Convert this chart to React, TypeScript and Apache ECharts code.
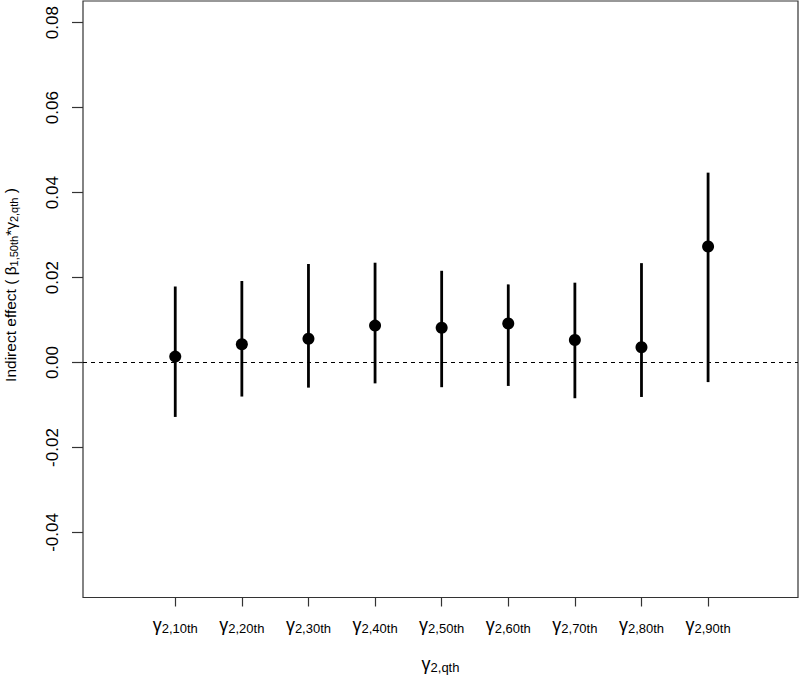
import React, { useEffect, useRef } from "react";
import * as echarts from "echarts";

const quantiles = ["10th", "20th", "30th", "40th", "50th", "60th", "70th", "80th", "90th"];
const estimates = [0.0014, 0.0043, 0.0056, 0.0087, 0.0082, 0.0092, 0.0053, 0.0036, 0.0273];
const lower = [-0.0128, -0.008, -0.0059, -0.0049, -0.0058, -0.0055, -0.0084, -0.0081, -0.0046];
const upper = [0.0179, 0.0192, 0.0232, 0.0235, 0.0216, 0.0184, 0.0188, 0.0234, 0.0447];
const yTicks = [-0.04, -0.02, 0.0, 0.02, 0.04, 0.06, 0.08];
const xTicks = [1, 2, 3, 4, 5, 6, 7, 8, 9];
const yTitle = "{t|Indirect effect ( }{g|β}{s|1,50th}{t|*}{g|γ}{s|2,qth}{t| )}";
const xTitle = "{g|γ}{s|2,qth}";

const FONT = "Liberation Sans, Arial, Helvetica, sans-serif";

export default function App() {
  const ref = useRef<HTMLDivElement>(null);
  useEffect(() => {
    if (!ref.current) return;
    const chart = echarts.init(ref.current, undefined, { renderer: "svg" });
    const pts = estimates.map((v, i) => [i + 1, v]);
    const bars = lower.map((l, i) => [i + 1, l, upper[i]]);
    chart.setOption({
      animation: false,
      backgroundColor: "#fff",
      textStyle: { fontFamily: FONT },
      grid: {
        left: 83,
        right: 2,
        top: 1,
        bottom: 77.5,
        containLabel: false,
        outerBoundsMode: "none",
        show: true,
        borderColor: "#333",
        borderWidth: 1.2,
        backgroundColor: "transparent",
      },
      graphic: [
        {
          type: "text",
          x: 10,
          y: 285,
          rotation: Math.PI / 2,
          style: {
            text: yTitle,
            align: "center",
            verticalAlign: "middle",
            fontFamily: FONT,
            rich: {
              t: { fontSize: 15.5, fontFamily: FONT, fill: "#000" },
              g: { fontSize: 15.5, fontFamily: FONT, fill: "#000" },
              s: { fontSize: 11, fontFamily: FONT, fill: "#000", padding: [7, 0, 0, 0] },
            },
          },
        },
      ],
      xAxis: {
        type: "value",
        min: -0.385,
        max: 10.35,
        splitLine: { show: false },
        axisLine: { show: false, onZero: false },
        axisTick: {
          show: true,
          customValues: xTicks,
          length: 9,
          lineStyle: { color: "#333", width: 1.2 },
        },
        axisLabel: {
          show: true,
          customValues: xTicks,
          margin: 18,
          color: "#000",
          formatter: (v: number) => {
            const q = quantiles[Math.round(v) - 1];
            return q ? `{g|γ}{s|2,${q}}` : "";
          },
          rich: {
            g: { fontSize: 18, fontFamily: FONT, color: "#000" },
            s: { fontSize: 13, fontFamily: FONT, color: "#000", padding: [6, 0, 0, 0] },
          },
        },
        name: xTitle,
        nameLocation: "middle",
        nameGap: 57,
        nameTextStyle: {
          rich: {
            g: { fontSize: 18, fontFamily: FONT, color: "#000" },
            s: { fontSize: 13, fontFamily: FONT, color: "#000", padding: [6, 0, 0, 0] },
          },
        },
      },
      yAxis: {
        type: "value",
        min: -0.0553,
        max: 0.0851,
        splitLine: { show: false },
        axisLine: { show: false, onZero: false },
        axisTick: {
          show: true,
          customValues: yTicks,
          length: 11,
          lineStyle: { color: "#333", width: 1.2 },
        },
        axisLabel: {
          show: true,
          customValues: yTicks,
          rotate: 90,
          margin: 22,
          fontSize: 17,
          color: "#000",
          fontFamily: FONT,
          formatter: (v: number) => v.toFixed(2),
        },
      },
      series: [
        {
          type: "custom",
          data: bars,
          renderItem: (params: any, api: any) => {
            const x = api.value(0);
            const p1 = api.coord([x, api.value(1)]);
            const p2 = api.coord([x, api.value(2)]);
            return {
              type: "line",
              shape: { x1: p1[0], y1: p1[1], x2: p2[0], y2: p2[1] },
              style: { stroke: "#000", lineWidth: 2.8 },
            };
          },
          z: 2,
        },
        {
          type: "scatter",
          data: pts,
          symbol: "circle",
          symbolSize: 12,
          itemStyle: { color: "#000", opacity: 1 },
          z: 3,
          markLine: {
            silent: true,
            symbol: "none",
            label: { show: false },
            lineStyle: { color: "#000", width: 1, type: [4, 4] },
            data: [{ yAxis: 0 }],
          },
        },
      ],
    });
    return () => chart.dispose();
  }, []);
  return <div ref={ref} style={{ width: 800, height: 675, position: "absolute", left: 0, top: 0 }} />;
}
